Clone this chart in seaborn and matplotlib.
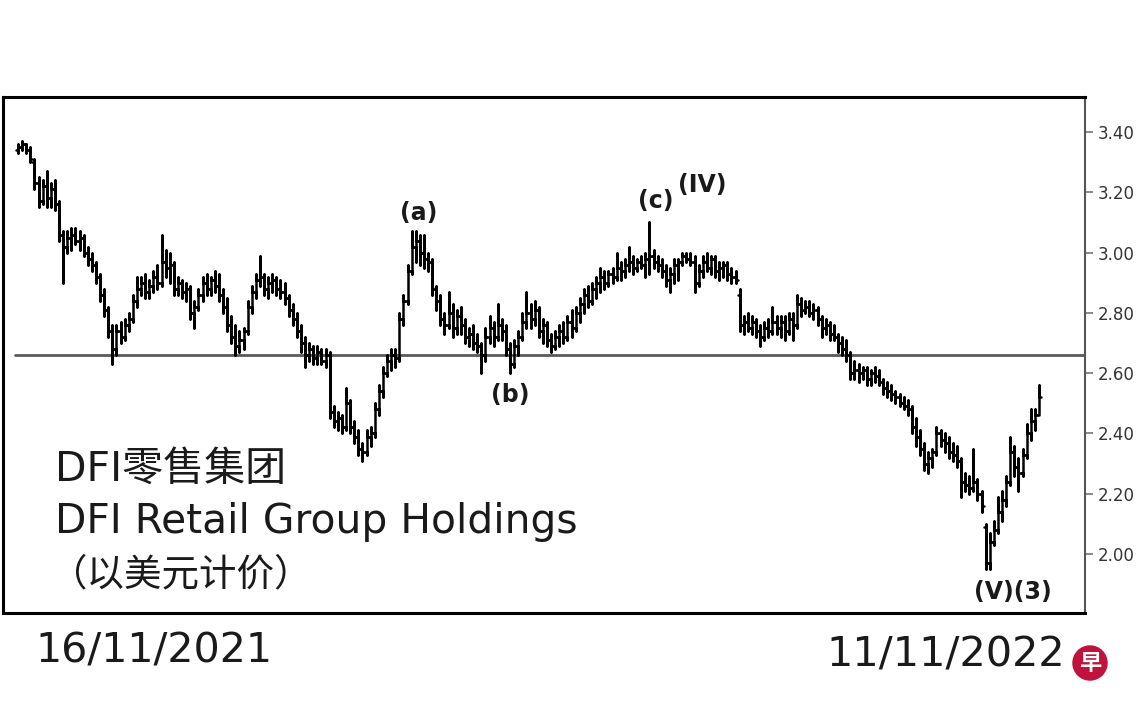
import numpy as np
import pandas as pd
import matplotlib
matplotlib.use("Agg")
import matplotlib.pyplot as plt
import seaborn as sns

# ---------------- data ----------------
opens = [
    3.34, 3.35, 3.36, 3.34, 3.30, 3.23, 3.17, 3.22, 3.18, 3.21,
    3.16, 3.06, 3.02, 3.05, 3.06, 3.04, 3.05, 3.00, 2.98, 2.96,
    2.92, 2.86, 2.81, 2.74, 2.68, 2.74, 2.72, 2.76, 2.78, 2.84,
    2.88, 2.90, 2.87, 2.89, 2.92, 2.90, 2.97, 2.95, 2.96, 2.88,
    2.90, 2.87, 2.88, 2.80, 2.82, 2.86, 2.90, 2.88, 2.91, 2.89,
    2.86, 2.82, 2.76, 2.72, 2.69, 2.71, 2.74, 2.82, 2.87, 2.91,
    2.92, 2.88, 2.90, 2.91, 2.88, 2.87, 2.85, 2.81, 2.78, 2.74,
    2.70, 2.66, 2.68, 2.65, 2.67, 2.64, 2.66, 2.47, 2.44, 2.45,
    2.42, 2.50, 2.42, 2.39, 2.35, 2.34, 2.39, 2.40, 2.48, 2.54,
    2.60, 2.64, 2.66, 2.65, 2.78, 2.84, 2.94, 3.02, 3.04, 3.00,
    2.98, 2.97, 2.88, 2.84, 2.78, 2.76, 2.80, 2.75, 2.79, 2.76,
    2.72, 2.73, 2.70, 2.69, 2.66, 2.72, 2.75, 2.72, 2.76, 2.74,
    2.68, 2.63, 2.69, 2.72, 2.77, 2.80, 2.78, 2.81, 2.74, 2.76,
    2.71, 2.69, 2.72, 2.74, 2.72, 2.77, 2.75, 2.80, 2.83, 2.86,
    2.84, 2.88, 2.90, 2.92, 2.90, 2.93, 2.92, 2.95, 2.94, 2.96,
    2.97, 2.95, 2.97, 2.96, 2.98, 2.99, 2.97, 2.96, 2.94, 2.91,
    2.93, 2.96, 2.97, 2.99, 2.98, 2.97, 2.90, 2.94, 2.97, 2.95,
    2.98, 2.94, 2.95, 2.96, 2.93, 2.92, 2.86, 2.76, 2.77, 2.75,
    2.77, 2.74, 2.72, 2.75, 2.74, 2.77, 2.75, 2.77, 2.74, 2.78,
    2.76, 2.83, 2.81, 2.82, 2.80, 2.81, 2.78, 2.75, 2.76, 2.73,
    2.72, 2.70, 2.68, 2.66, 2.60, 2.61, 2.60, 2.61, 2.58, 2.60,
    2.59, 2.57, 2.55, 2.54, 2.53, 2.52, 2.50, 2.49, 2.48, 2.42,
    2.39, 2.35, 2.30, 2.32, 2.34, 2.40, 2.38, 2.37, 2.34, 2.33,
    2.31, 2.24, 2.23, 2.22, 2.24, 2.20, 2.09, 1.97, 2.04, 2.08,
    2.14, 2.18, 2.24, 2.34, 2.29, 2.27, 2.33, 2.40, 2.44, 2.46,
]
highs = [
    3.36, 3.37, 3.36, 3.35, 3.31, 3.25, 3.24, 3.27, 3.23, 3.24,
    3.17, 3.07, 3.07, 3.08, 3.08, 3.07, 3.06, 3.02, 3.00, 2.97,
    2.93, 2.88, 2.82, 2.76, 2.76, 2.77, 2.78, 2.80, 2.86, 2.92,
    2.92, 2.93, 2.91, 2.94, 2.96, 3.06, 3.01, 3.00, 2.97, 2.92,
    2.91, 2.90, 2.89, 2.84, 2.88, 2.92, 2.93, 2.92, 2.94, 2.93,
    2.88, 2.85, 2.79, 2.76, 2.74, 2.75, 2.84, 2.89, 2.93, 2.99,
    2.93, 2.92, 2.93, 2.92, 2.91, 2.90, 2.86, 2.83, 2.80, 2.76,
    2.72, 2.70, 2.69, 2.69, 2.68, 2.68, 2.67, 2.49, 2.47, 2.46,
    2.55, 2.51, 2.44, 2.41, 2.37, 2.41, 2.42, 2.50, 2.56, 2.62,
    2.66, 2.68, 2.68, 2.80, 2.86, 2.96, 3.07, 3.07, 3.06, 3.06,
    3.00, 2.98, 2.89, 2.86, 2.80, 2.87, 2.83, 2.81, 2.82, 2.78,
    2.75, 2.76, 2.73, 2.70, 2.75, 2.79, 2.77, 2.83, 2.78, 2.76,
    2.70, 2.71, 2.74, 2.80, 2.87, 2.83, 2.84, 2.82, 2.78, 2.77,
    2.73, 2.74, 2.76, 2.77, 2.79, 2.81, 2.82, 2.85, 2.88, 2.89,
    2.90, 2.92, 2.95, 2.94, 2.94, 2.95, 3.00, 2.97, 2.98, 3.02,
    2.99, 2.98, 2.99, 3.00, 3.10, 3.01, 2.99, 2.98, 2.96, 2.95,
    2.98, 2.98, 3.00, 3.00, 3.00, 2.99, 2.96, 2.99, 3.00, 2.99,
    2.99, 2.97, 2.97, 2.97, 2.95, 2.94, 2.88, 2.79, 2.80, 2.79,
    2.78, 2.76, 2.77, 2.78, 2.82, 2.79, 2.79, 2.79, 2.80, 2.80,
    2.86, 2.85, 2.84, 2.84, 2.83, 2.82, 2.79, 2.78, 2.77, 2.76,
    2.73, 2.72, 2.71, 2.67, 2.64, 2.63, 2.62, 2.62, 2.61, 2.62,
    2.61, 2.58, 2.57, 2.56, 2.54, 2.53, 2.52, 2.51, 2.49, 2.45,
    2.41, 2.37, 2.34, 2.35, 2.42, 2.41, 2.40, 2.39, 2.37, 2.36,
    2.32, 2.27, 2.26, 2.35, 2.25, 2.21, 2.10, 2.07, 2.11, 2.19,
    2.21, 2.26, 2.39, 2.36, 2.32, 2.35, 2.43, 2.48, 2.48, 2.56,
]
lows = [
    3.33, 3.34, 3.33, 3.30, 3.21, 3.15, 3.16, 3.15, 3.15, 3.14,
    3.04, 2.90, 3.00, 3.01, 3.03, 3.01, 2.99, 2.96, 2.94, 2.90,
    2.84, 2.79, 2.72, 2.63, 2.66, 2.70, 2.71, 2.74, 2.77, 2.82,
    2.86, 2.85, 2.85, 2.87, 2.88, 2.89, 2.92, 2.90, 2.86, 2.86,
    2.85, 2.84, 2.78, 2.75, 2.81, 2.84, 2.86, 2.86, 2.87, 2.84,
    2.80, 2.74, 2.70, 2.66, 2.67, 2.68, 2.73, 2.80, 2.85, 2.89,
    2.86, 2.85, 2.87, 2.86, 2.85, 2.83, 2.79, 2.76, 2.72, 2.67,
    2.62, 2.64, 2.63, 2.63, 2.63, 2.62, 2.45, 2.42, 2.41, 2.40,
    2.41, 2.40, 2.37, 2.33, 2.31, 2.33, 2.36, 2.39, 2.46, 2.52,
    2.59, 2.61, 2.62, 2.64, 2.76, 2.83, 2.93, 2.97, 2.96, 2.95,
    2.94, 2.86, 2.81, 2.76, 2.73, 2.75, 2.72, 2.73, 2.73, 2.70,
    2.69, 2.68, 2.67, 2.60, 2.64, 2.70, 2.69, 2.71, 2.71, 2.66,
    2.60, 2.62, 2.66, 2.71, 2.75, 2.75, 2.76, 2.72, 2.70, 2.69,
    2.67, 2.68, 2.69, 2.70, 2.71, 2.72, 2.74, 2.77, 2.80, 2.82,
    2.83, 2.85, 2.87, 2.88, 2.89, 2.90, 2.91, 2.91, 2.92, 2.94,
    2.93, 2.94, 2.95, 2.92, 2.93, 2.95, 2.94, 2.92, 2.89, 2.87,
    2.90, 2.91, 2.96, 2.97, 2.96, 2.87, 2.89, 2.92, 2.94, 2.93,
    2.92, 2.91, 2.92, 2.91, 2.90, 2.90, 2.74, 2.73, 2.74, 2.73,
    2.72, 2.69, 2.71, 2.72, 2.73, 2.73, 2.72, 2.71, 2.73, 2.71,
    2.75, 2.79, 2.80, 2.79, 2.78, 2.76, 2.72, 2.73, 2.71, 2.71,
    2.67, 2.66, 2.64, 2.58, 2.58, 2.57, 2.58, 2.56, 2.56, 2.57,
    2.56, 2.53, 2.52, 2.51, 2.50, 2.49, 2.48, 2.46, 2.40, 2.36,
    2.33, 2.28, 2.27, 2.29, 2.33, 2.36, 2.34, 2.32, 2.31, 2.29,
    2.19, 2.21, 2.20, 2.21, 2.18, 2.14, 1.95, 1.95, 2.03, 2.07,
    2.11, 2.16, 2.23, 2.26, 2.21, 2.26, 2.32, 2.38, 2.41, 2.46,
]
closes = [
    3.35, 3.36, 3.34, 3.31, 3.23, 3.17, 3.22, 3.18, 3.21, 3.16,
    3.06, 3.02, 3.05, 3.06, 3.04, 3.05, 3.00, 2.98, 2.96, 2.92,
    2.86, 2.81, 2.74, 2.68, 2.74, 2.72, 2.76, 2.78, 2.84, 2.88,
    2.90, 2.87, 2.89, 2.92, 2.90, 2.97, 2.95, 2.96, 2.88, 2.90,
    2.87, 2.88, 2.80, 2.82, 2.86, 2.90, 2.88, 2.91, 2.89, 2.86,
    2.82, 2.76, 2.72, 2.69, 2.71, 2.74, 2.82, 2.87, 2.91, 2.92,
    2.88, 2.90, 2.91, 2.88, 2.87, 2.85, 2.81, 2.78, 2.74, 2.70,
    2.66, 2.68, 2.65, 2.67, 2.64, 2.66, 2.47, 2.44, 2.45, 2.42,
    2.50, 2.42, 2.39, 2.35, 2.34, 2.39, 2.40, 2.48, 2.54, 2.60,
    2.64, 2.66, 2.65, 2.78, 2.84, 2.94, 3.02, 3.04, 3.00, 2.98,
    2.97, 2.88, 2.84, 2.78, 2.76, 2.80, 2.75, 2.79, 2.76, 2.72,
    2.73, 2.70, 2.69, 2.66, 2.72, 2.75, 2.72, 2.76, 2.74, 2.68,
    2.63, 2.69, 2.72, 2.77, 2.80, 2.78, 2.81, 2.74, 2.76, 2.71,
    2.69, 2.72, 2.74, 2.72, 2.77, 2.75, 2.80, 2.83, 2.86, 2.84,
    2.88, 2.90, 2.92, 2.90, 2.93, 2.92, 2.95, 2.94, 2.96, 2.97,
    2.95, 2.97, 2.96, 2.98, 2.99, 2.97, 2.96, 2.94, 2.91, 2.93,
    2.96, 2.97, 2.99, 2.98, 2.97, 2.90, 2.94, 2.97, 2.95, 2.98,
    2.94, 2.95, 2.96, 2.93, 2.92, 2.91, 2.76, 2.77, 2.75, 2.77,
    2.74, 2.72, 2.75, 2.74, 2.77, 2.75, 2.77, 2.74, 2.78, 2.76,
    2.83, 2.81, 2.82, 2.80, 2.81, 2.78, 2.75, 2.76, 2.73, 2.72,
    2.70, 2.68, 2.66, 2.60, 2.61, 2.60, 2.61, 2.58, 2.60, 2.59,
    2.57, 2.55, 2.54, 2.53, 2.52, 2.50, 2.49, 2.48, 2.42, 2.39,
    2.35, 2.30, 2.32, 2.34, 2.40, 2.38, 2.37, 2.34, 2.33, 2.31,
    2.24, 2.23, 2.22, 2.24, 2.20, 2.16, 1.97, 2.04, 2.08, 2.14,
    2.18, 2.24, 2.34, 2.29, 2.27, 2.33, 2.40, 2.44, 2.46, 2.52,
]

support_level = 2.66
ytick_values = [2.00, 2.20, 2.40, 2.60, 2.80, 3.00, 3.20, 3.40]
start_date_label = "16/11/2021"
end_date_label = "11/11/2022"
title_lines = ["DFI零售集团", "DFI Retail Group Holdings", "（以美元计价）"]

wave_labels = ["(a)", "(b)", "(c)", "(IV)", "(V)(3)"]
wave_bar = [97.6, 120.0, 155.6, 166.8, 242.7]
wave_price = [3.131, 2.528, 3.171, 3.224, 1.874]

# ---------------- build long-form OHLC paths ----------------
tick = 0.5
rows = []
for i, (o, h, l, c) in enumerate(zip(opens, highs, lows, closes)):
    pts = [(i - tick, o), (i, o), (i, l), (i, h), (i, c), (i + tick, c)]
    for k, (xx, yy) in enumerate(pts):
        rows.append({"bar": i, "order": k, "x": xx, "price": yy})
df = pd.DataFrame(rows)

# ---------------- figure ----------------
sns.set_theme(style="white")
plt.rcParams["font.family"] = ["DejaVu Sans", "Noto Sans CJK SC"]

W, H = 1140, 712
fig = plt.figure(figsize=(W / 100, H / 100), dpi=100)
fig.patch.set_facecolor("white")
ax = fig.add_axes([3 / W, 1 - 613 / H, (1085 - 3) / W, (613 - 97) / H])
ax.set_facecolor("white")

sns.lineplot(data=df, x="x", y="price", units="bar", estimator=None,
             sort=False, color="black", linewidth=1.8, legend=False, ax=ax)

ax.axhline(support_level, xmin=12 / 1082, xmax=1.0, color="#5a5a5a", lw=2.0, zorder=1)

n = len(closes)
ax.set_xlim(-(18 - 3) / 4.1, (n - 1) + (1085 - 1039) / 4.1)
ax.set_ylim(1.8046, 3.5161)

ax.set_xticks([])
ax.set_xlabel("")
ax.set_ylabel("")
ax.yaxis.tick_right()
ax.set_yticks(ytick_values)
ax.set_yticklabels([f"{v:.2f}" for v in ytick_values])
ax.tick_params(axis="y", which="both", right=True, left=False, direction="out",
               length=6, width=1.2, color="#777777", labelsize=12,
               labelcolor="#333333", pad=3)

for side in ["top", "left", "bottom"]:
    ax.spines[side].set_visible(True)
    ax.spines[side].set_color("black")
    ax.spines[side].set_linewidth(2.2)
ax.spines["right"].set_visible(True)
ax.spines["right"].set_color("#555555")
ax.spines["right"].set_linewidth(1.5)

# wave annotations
for lab, bx, py in zip(wave_labels, wave_bar, wave_price):
    ax.text(bx, py, lab, ha="center", va="center", fontsize=17,
            fontweight="bold", color="#1a1a1a", family="DejaVu Sans")

# title block inside chart
fig.text(55 / W, 1 - 470 / H, title_lines[0], ha="left", va="center",
         fontsize=29.5, color="#1a1a1a", family=["DejaVu Sans", "Noto Sans CJK SC"])
fig.text(55 / W, 1 - 522 / H, title_lines[1], ha="left", va="center",
         fontsize=29.3, color="#1a1a1a", family=["DejaVu Sans", "Noto Sans CJK SC"])
fig.text(50 / W, 1 - 575 / H, title_lines[2], ha="left", va="center",
         fontsize=27, color="#1a1a1a", family=["Noto Sans CJK SC", "DejaVu Sans"])

# date labels below chart
fig.text(35 / W, 1 - 652 / H, start_date_label, ha="left", va="center",
         fontsize=29.6, color="#1a1a1a", family="DejaVu Sans")
fig.text(826 / W, 1 - 655 / H, end_date_label, ha="left", va="center",
         fontsize=29.8, color="#1a1a1a", family="DejaVu Sans")

# logo
fig.text(1090 / W, 1 - 663 / H, "早", ha="center", va="center", fontsize=16,
         fontweight="bold", color="white", family=["Noto Sans CJK SC"],
         bbox=dict(boxstyle="circle,pad=0.28", fc="#c0123c", ec="none"))

fig.savefig("out.png", dpi=100, facecolor="white")
